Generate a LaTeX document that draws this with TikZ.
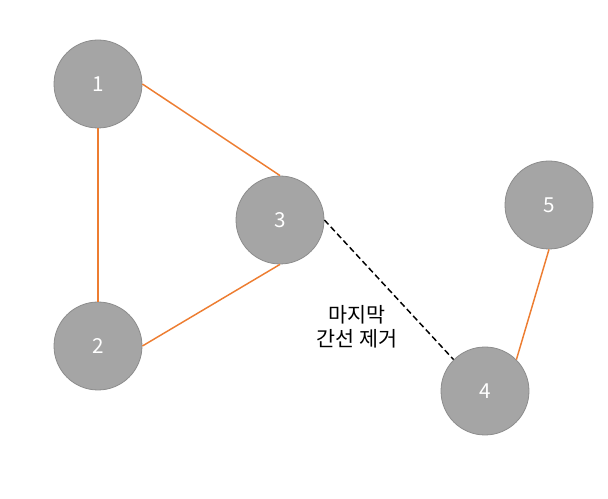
\documentclass[tikz,border=0pt]{standalone}
\usepackage{fontspec}
\setmainfont{Noto Sans CJK KR}
\usetikzlibrary{positioning}
\definecolor{vertexFill}{HTML}{A5A5A5}
\definecolor{vertexLine}{HTML}{8C8C8C}
\definecolor{edgeOrange}{HTML}{ED7D31}

\begin{document}
\begin{tikzpicture}[
    x=0.75pt, y=-0.75pt,
    font=\fontsize{15.5}{18}\selectfont,
    vertexNode/.style={
        circle, fill=vertexFill, draw=vertexLine, line width=0.6pt,
        minimum size=66pt, inner sep=0pt, text=white
    },
    treeEdge/.style={draw=edgeOrange, line width=1.1pt},
    cutEdge/.style={draw=black, line width=1.1pt, dash pattern=on 4.5pt off 2.5pt}
]
\useasboundingbox (0,0) rectangle (608,499);

% Vertices
\node[vertexNode] (v1) at (98,84) {1};
\node[vertexNode] (v2) at (98,346) {2};
\node[vertexNode] (v3) at (280,220) {3};
\node[vertexNode] (v4) at (485,391) {4};
\node[vertexNode] (v5) at (549,205) {5};

% Edges
\draw[treeEdge] (v1.east) -- (v3.north);
\draw[treeEdge] (v1.south) -- (v2.north);
\draw[treeEdge] (v2.east) -- (v3.south);
\draw[treeEdge] (v4.north east) -- (v5.south);

% Removed edge
\draw[cutEdge] (v3.east) -- (v4.north west);
\node[align=center] (cutLabel) at (357,327) {마지막\\간선 제거};

\end{tikzpicture}
\end{document}
